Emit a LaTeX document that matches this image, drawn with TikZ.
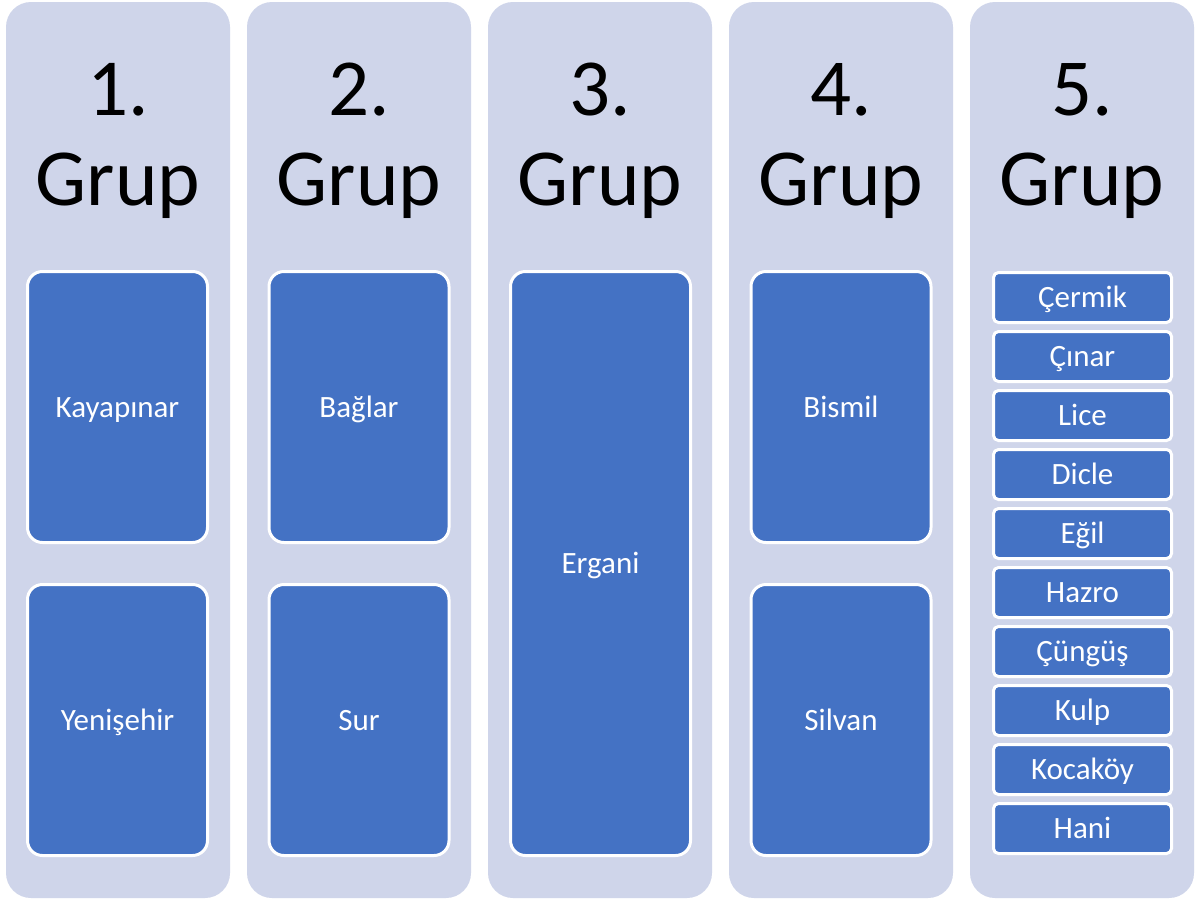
\documentclass[tikz,border=0pt]{standalone}
\usepackage{fontspec}
\setmainfont{Carlito}
\definecolor{colfill}{HTML}{CFD5EA}
\definecolor{boxblue}{HTML}{4472C4}
\tikzset{
  colbox/.style={fill=colfill, draw=none, rounded corners=25pt, minimum width=224pt, minimum height=896pt, inner sep=0pt, outer sep=0pt},
  boxtext/.style={text=white, font=\fontsize{31pt}{36pt}\selectfont, text height=24pt, text depth=4pt},
  bigbox/.style={fill=boxblue, draw=white, line width=3pt, rounded corners=15pt, minimum width=180pt, inner sep=0pt, outer sep=0pt, boxtext},
  smallbox/.style={fill=boxblue, draw=white, line width=3pt, rounded corners=5pt, minimum width=178pt, minimum height=50pt, inner sep=0pt, outer sep=0pt, boxtext},
  titletext/.style={anchor=base, inner sep=0pt, text=black, font=\fontsize{81pt}{90pt}\selectfont}
}
\begin{document}
\begin{tikzpicture}[x=1pt,y=-1pt]
\fill[white] (0,0) rectangle (1198,900);
\useasboundingbox (0,0) rectangle (1198,900);
% columns
\foreach \i/\cx in {1/118,2/359,3/600,4/841,5/1082}{
  \node[colbox] (col\i) at (\cx,450) {};
  \node[titletext] (num\i) at (\cx,115) {\i.};
  \node[titletext] (grup\i) at (\cx,205) {Grup};
}
% group 1
\node[bigbox, minimum height=271pt] (kayapinar) at (117.5,407) {Kayapınar};
\node[bigbox, minimum height=271pt] (yenisehir) at (117.5,720) {Yenişehir};
% group 2
\node[bigbox, minimum height=271pt] (baglar) at (359,407) {Bağlar};
\node[bigbox, minimum height=271pt] (sur) at (359,720) {Sur};
% group 3
\node[bigbox, minimum height=584pt] (ergani) at (600.5,563.5) {Ergani};
% group 4
\node[bigbox, minimum height=271pt] (bismil) at (841,407) {Bismil};
\node[bigbox, minimum height=271pt] (silvan) at (841,720) {Silvan};
% group 5
\foreach \k/\name in {0/Çermik,1/Çınar,2/Lice,3/Dicle,4/Eğil,5/Hazro,6/Çüngüş,7/Kulp,8/Kocaköy,9/Hani}{
  \node[smallbox] (s\k) at (1082.5,{297.5+59*\k}) {\name};
}
\end{tikzpicture}
\end{document}
